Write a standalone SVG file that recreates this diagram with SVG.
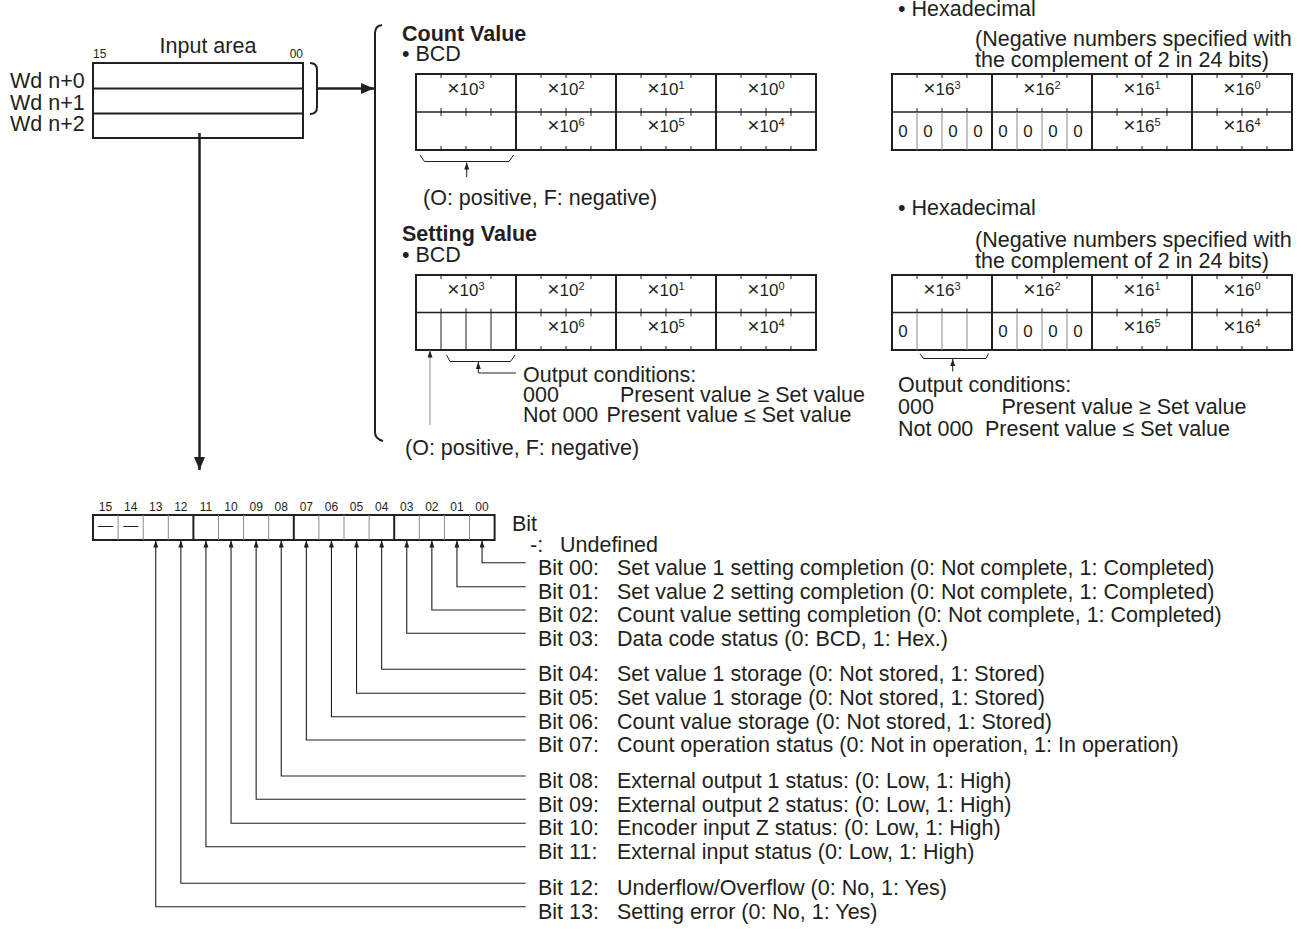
<svg xmlns="http://www.w3.org/2000/svg" width="1311" height="930" viewBox="0 0 1311 930">
<defs>
<style>
text{font-family:"Liberation Sans",Arial,Helvetica,sans-serif;fill:#231f20}
.t{font-size:21.5px}
.b{font-weight:bold}
.c{font-size:17px}
.x{font-size:21px;font-weight:300}
.sup{font-size:11px}
.n{font-size:12px}
.mid{text-anchor:middle}
.end{text-anchor:end}
.k{stroke:#231f20;stroke-width:2;fill:none}
.m{stroke:#231f20;stroke-width:1.5;fill:none}
.h{stroke:#231f20;stroke-width:1;fill:none}
.g{stroke:#8a8a8a;stroke-width:1;fill:none}
.w{stroke:#231f20;stroke-width:2.5;fill:none}
.bl{stroke:#231f20;stroke-width:1.1;fill:none}
</style>
<marker id="big" markerUnits="userSpaceOnUse" markerWidth="14" markerHeight="12" refX="13" refY="5.5" orient="auto"><path d="M0,0 L13,5.5 L0,11 Z" fill="#231f20"/></marker>
<marker id="sm" markerUnits="userSpaceOnUse" markerWidth="8" markerHeight="6" refX="7" refY="2.5" orient="auto"><path d="M0,0 L7,2.5 L0,5 Z" fill="#231f20"/></marker>
</defs>
<rect width="1311" height="930" fill="#fff"/>

<g id="input-area">
<text class="n" x="93" y="57.5">15</text>
<text class="n end" x="303" y="57.5">00</text>
<text class="t mid" x="208" y="53">Input area</text>
<text class="t" x="10" y="88">Wd n+0</text>
<text class="t" x="10" y="110">Wd n+1</text>
<text class="t" x="10" y="131">Wd n+2</text>
<rect class="k" x="93" y="63" width="210" height="75"/>
<path class="k" d="M93 88.5H303M93 113.5H303"/>
<path class="k" d="M310 63Q317 63 317 70V107Q317 114 310 114"/>
<path class="k" d="M382 25Q375 26 375 33V432Q375 439 383 441"/>
</g>

<g id="count-value-bcd">
<text class="t b" x="402" y="40.5">Count Value</text>
<text class="t" x="402" y="61">• BCD</text>
<rect class="k" x="416" y="74" width="400" height="76"/>
<path class="k" d="M516 74V150M616 74V150M716 74V150"/>
<path class="m" d="M416 112H816"/>
<path class="h" d="M441 74v4M466 74v4M491 74v4M541 74v4M566 74v4M591 74v4M641 74v4M666 74v4M691 74v4M741 74v4M766 74v4M791 74v4
M441 108v8M466 108v8M491 108v8M541 108v8M566 108v8M591 108v8M641 108v8M666 108v8M691 108v8M741 108v8M766 108v8M791 108v8
M441 146v4M466 146v4M491 146v4M541 146v4M566 146v4M591 146v4M641 146v4M666 146v4M691 146v4M741 146v4M766 146v4M791 146v4"/>
<text class="c mid" x="466" y="95"><tspan class="x">×</tspan>10<tspan class="sup" dy="-6">3</tspan></text>
<text class="c mid" x="566" y="95"><tspan class="x">×</tspan>10<tspan class="sup" dy="-6">2</tspan></text>
<text class="c mid" x="666" y="95"><tspan class="x">×</tspan>10<tspan class="sup" dy="-6">1</tspan></text>
<text class="c mid" x="766" y="95"><tspan class="x">×</tspan>10<tspan class="sup" dy="-6">0</tspan></text>
<text class="c mid" x="566" y="132"><tspan class="x">×</tspan>10<tspan class="sup" dy="-6">6</tspan></text>
<text class="c mid" x="666" y="132"><tspan class="x">×</tspan>10<tspan class="sup" dy="-6">5</tspan></text>
<text class="c mid" x="766" y="132"><tspan class="x">×</tspan>10<tspan class="sup" dy="-6">4</tspan></text>
<path class="h" d="M420 155L424.5 161.5H509L513.5 155"/>
<text class="t" x="423" y="205">(O: positive, F: negative)</text>
</g>

<g id="count-value-hex">
<text class="t" x="898" y="16">• Hexadecimal</text>
<text class="t" x="975" y="46">(Negative numbers specified with</text>
<text class="t" x="975" y="67">the complement of 2 in 24 bits)</text>
<rect class="k" x="892" y="74" width="400" height="76"/>
<path class="k" d="M992 74V150M1092 74V150M1192 74V150"/>
<path class="m" d="M892 112H1292"/>
<path class="g" d="M917 112V150M942 112V150M967 112V150M1017 112V150M1042 112V150M1067 112V150"/>
<path class="h" d="M917 74v4M942 74v4M967 74v4M1017 74v4M1042 74v4M1067 74v4M1117 74v4M1142 74v4M1167 74v4M1217 74v4M1242 74v4M1267 74v4
M917 108v4M942 108v4M967 108v4M1017 108v4M1042 108v4M1067 108v4M1117 108v8M1142 108v8M1167 108v8M1217 108v8M1242 108v8M1267 108v8
M1117 146v4M1142 146v4M1167 146v4M1217 146v4M1242 146v4M1267 146v4"/>
<text class="c mid" x="942" y="95"><tspan class="x">×</tspan>16<tspan class="sup" dy="-6">3</tspan></text>
<text class="c mid" x="1042" y="95"><tspan class="x">×</tspan>16<tspan class="sup" dy="-6">2</tspan></text>
<text class="c mid" x="1142" y="95"><tspan class="x">×</tspan>16<tspan class="sup" dy="-6">1</tspan></text>
<text class="c mid" x="1242" y="95"><tspan class="x">×</tspan>16<tspan class="sup" dy="-6">0</tspan></text>
<text class="c mid" x="1142" y="132"><tspan class="x">×</tspan>16<tspan class="sup" dy="-6">5</tspan></text>
<text class="c mid" x="1242" y="132"><tspan class="x">×</tspan>16<tspan class="sup" dy="-6">4</tspan></text>
<text class="c mid" x="903" y="137">0</text>
<text class="c mid" x="928" y="137">0</text>
<text class="c mid" x="953" y="137">0</text>
<text class="c mid" x="978" y="137">0</text>
<text class="c mid" x="1003" y="137">0</text>
<text class="c mid" x="1028" y="137">0</text>
<text class="c mid" x="1053" y="137">0</text>
<text class="c mid" x="1078" y="137">0</text>
</g>

<g id="setting-value-bcd">
<text class="t b" x="402" y="241">Setting Value</text>
<text class="t" x="402" y="262">• BCD</text>
<rect class="k" x="416" y="275" width="400" height="75"/>
<path class="k" d="M516 275V350M616 275V350M716 275V350"/>
<path class="m" d="M416 312.5H816"/>
<path class="h" d="M441 312.5V350M466 312.5V350M491 312.5V350"/>
<path class="h" d="M441 275v4M466 275v4M491 275v4M541 275v4M566 275v4M591 275v4M641 275v4M666 275v4M691 275v4M741 275v4M766 275v4M791 275v4
M441 308.5v4M466 308.5v4M491 308.5v4M541 308.5v8M566 308.5v8M591 308.5v8M641 308.5v8M666 308.5v8M691 308.5v8M741 308.5v8M766 308.5v8M791 308.5v8
M541 346v4M566 346v4M591 346v4M641 346v4M666 346v4M691 346v4M741 346v4M766 346v4M791 346v4"/>
<text class="c mid" x="466" y="296"><tspan class="x">×</tspan>10<tspan class="sup" dy="-6">3</tspan></text>
<text class="c mid" x="566" y="296"><tspan class="x">×</tspan>10<tspan class="sup" dy="-6">2</tspan></text>
<text class="c mid" x="666" y="296"><tspan class="x">×</tspan>10<tspan class="sup" dy="-6">1</tspan></text>
<text class="c mid" x="766" y="296"><tspan class="x">×</tspan>10<tspan class="sup" dy="-6">0</tspan></text>
<text class="c mid" x="566" y="333"><tspan class="x">×</tspan>10<tspan class="sup" dy="-6">6</tspan></text>
<text class="c mid" x="666" y="333"><tspan class="x">×</tspan>10<tspan class="sup" dy="-6">5</tspan></text>
<text class="c mid" x="766" y="333"><tspan class="x">×</tspan>10<tspan class="sup" dy="-6">4</tspan></text>
<path class="h" d="M446.5 355L450 361.5H510.5L515 355"/>
<text class="t" x="523" y="381.5">Output conditions:</text>
<text class="t" x="523" y="401.5">000</text>
<text class="t" x="620" y="401.5">Present value ≥ Set value</text>
<text class="t" x="523" y="422">Not 000</text>
<text class="t" x="606.5" y="422">Present value ≤ Set value</text>
<text class="t" x="405" y="455">(O: positive, F: negative)</text>
</g>

<g id="setting-value-hex">
<text class="t" x="898" y="215">• Hexadecimal</text>
<text class="t" x="975" y="247">(Negative numbers specified with</text>
<text class="t" x="975" y="267.5">the complement of 2 in 24 bits)</text>
<rect class="k" x="892" y="275" width="400" height="75"/>
<path class="k" d="M992 275V350M1092 275V350M1192 275V350"/>
<path class="m" d="M892 312.5H1292"/>
<path class="g" d="M917 312.5V350M942 312.5V350M967 312.5V350M1017 312.5V350M1042 312.5V350M1067 312.5V350"/>
<path class="h" d="M917 275v4M942 275v4M967 275v4M1017 275v4M1042 275v4M1067 275v4M1117 275v4M1142 275v4M1167 275v4M1217 275v4M1242 275v4M1267 275v4
M917 308.5v4M942 308.5v4M967 308.5v4M1017 308.5v4M1042 308.5v4M1067 308.5v4M1117 308.5v8M1142 308.5v8M1167 308.5v8M1217 308.5v8M1242 308.5v8M1267 308.5v8
M1117 346v4M1142 346v4M1167 346v4M1217 346v4M1242 346v4M1267 346v4"/>
<text class="c mid" x="942" y="296"><tspan class="x">×</tspan>16<tspan class="sup" dy="-6">3</tspan></text>
<text class="c mid" x="1042" y="296"><tspan class="x">×</tspan>16<tspan class="sup" dy="-6">2</tspan></text>
<text class="c mid" x="1142" y="296"><tspan class="x">×</tspan>16<tspan class="sup" dy="-6">1</tspan></text>
<text class="c mid" x="1242" y="296"><tspan class="x">×</tspan>16<tspan class="sup" dy="-6">0</tspan></text>
<text class="c mid" x="1142" y="333"><tspan class="x">×</tspan>16<tspan class="sup" dy="-6">5</tspan></text>
<text class="c mid" x="1242" y="333"><tspan class="x">×</tspan>16<tspan class="sup" dy="-6">4</tspan></text>
<text class="c mid" x="903" y="337">0</text>
<text class="c mid" x="1003" y="337">0</text>
<text class="c mid" x="1028" y="337">0</text>
<text class="c mid" x="1053" y="337">0</text>
<text class="c mid" x="1078" y="337">0</text>
<path class="h" d="M920 353.5L923.5 358.5H986L988.5 353.5"/>
<text class="t" x="898" y="392">Output conditions:</text>
<text class="t" x="898" y="414">000</text>
<text class="t" x="1001.5" y="414">Present value ≥ Set value</text>
<text class="t" x="898" y="436">Not 000</text>
<text class="t" x="985" y="436">Present value ≤ Set value</text>
</g>

<g id="status-register">
<text class="n mid" x="105.55" y="511">15</text>
<text class="n mid" x="130.65" y="511">14</text>
<text class="n mid" x="155.75" y="511">13</text>
<text class="n mid" x="180.85" y="511">12</text>
<text class="n mid" x="205.95" y="511">11</text>
<text class="n mid" x="231.05" y="511">10</text>
<text class="n mid" x="256.15" y="511">09</text>
<text class="n mid" x="281.25" y="511">08</text>
<text class="n mid" x="306.35" y="511">07</text>
<text class="n mid" x="331.45" y="511">06</text>
<text class="n mid" x="356.55" y="511">05</text>
<text class="n mid" x="381.65" y="511">04</text>
<text class="n mid" x="406.75" y="511">03</text>
<text class="n mid" x="431.85" y="511">02</text>
<text class="n mid" x="456.95" y="511">01</text>
<text class="n mid" x="482.05" y="511">00</text>
<rect class="k" x="93" y="515" width="401.6" height="25"/>
<path class="k" d="M193.4 515V540M293.8 515V540M394.2 515V540"/>
<path class="g" d="M118.1 515V540M143.2 515V540M168.3 515V540M218.5 515V540M243.6 515V540M268.7 515V540M318.9 515V540M344 515V540M369.1 515V540M419.3 515V540M444.4 515V540M469.5 515V540"/>
<text class="mid" style="font-size:15px" x="105.55" y="529.5">—</text>
<text class="mid" style="font-size:15px" x="130.65" y="529.5">—</text>
<text class="t" x="512" y="531">Bit</text>
<text class="t" x="530" y="552">-:</text>
<text class="t" x="560" y="552">Undefined</text>
</g>

<g id="bit-descriptions">
<text class="t" x="538" y="575">Bit 00:</text><text class="t" x="617" y="575">Set value 1 setting completion (0: Not complete, 1: Completed)</text>
<text class="t" x="538" y="598.5">Bit 01:</text><text class="t" x="617" y="598.5">Set value 2 setting completion (0: Not complete, 1: Completed)</text>
<text class="t" x="538" y="622">Bit 02:</text><text class="t" x="617" y="622">Count value setting completion (0: Not complete, 1: Completed)</text>
<text class="t" x="538" y="645.5">Bit 03:</text><text class="t" x="617" y="645.5">Data code status (0: BCD, 1: Hex.)</text>
<text class="t" x="538" y="681">Bit 04:</text><text class="t" x="617" y="681">Set value 1 storage (0: Not stored, 1: Stored)</text>
<text class="t" x="538" y="705">Bit 05:</text><text class="t" x="617" y="705">Set value 1 storage (0: Not stored, 1: Stored)</text>
<text class="t" x="538" y="728.5">Bit 06:</text><text class="t" x="617" y="728.5">Count value storage (0: Not stored, 1: Stored)</text>
<text class="t" x="538" y="752">Bit 07:</text><text class="t" x="617" y="752">Count operation status (0: Not in operation, 1: In operation)</text>
<text class="t" x="538" y="788">Bit 08:</text><text class="t" x="617" y="788">External output 1 status: (0: Low, 1: High)</text>
<text class="t" x="538" y="811.5">Bit 09:</text><text class="t" x="617" y="811.5">External output 2 status: (0: Low, 1: High)</text>
<text class="t" x="538" y="835">Bit 10:</text><text class="t" x="617" y="835">Encoder input Z status: (0: Low, 1: High)</text>
<text class="t" x="538" y="858.5">Bit 11:</text><text class="t" x="617" y="858.5">External input status (0: Low, 1: High)</text>
<text class="t" x="538" y="895">Bit 12:</text><text class="t" x="617" y="895">Underflow/Overflow (0: No, 1: Yes)</text>
<text class="t" x="538" y="918.5">Bit 13:</text><text class="t" x="617" y="918.5">Setting error (0: No, 1: Yes)</text>
</g>

<g id="connectors">
<path class="w" d="M317 88.5H374" marker-end="url(#big)"/>
<path class="w" d="M199.5 133V470" marker-end="url(#big)"/>
<path class="h" d="M466.7 177V162.5" marker-end="url(#sm)"/>
<path class="g" d="M430 425V350.5" marker-end="url(#sm)"/>
<path class="h" d="M516 373H478.3V362" marker-end="url(#sm)"/>
<path class="h" d="M952.7 371.5V359" marker-end="url(#sm)"/>
<path class="bl" d="M525.7 562.7H482.05V540.5" marker-end="url(#sm)"/>
<path class="bl" d="M525.7 586.7H456.95V540.5" marker-end="url(#sm)"/>
<path class="bl" d="M525.7 610H431.85V540.5" marker-end="url(#sm)"/>
<path class="bl" d="M525.7 633.3H406.75V540.5" marker-end="url(#sm)"/>
<path class="bl" d="M525.7 669.3H381.65V540.5" marker-end="url(#sm)"/>
<path class="bl" d="M525.7 693.3H356.55V540.5" marker-end="url(#sm)"/>
<path class="bl" d="M525.7 716.7H331.45V540.5" marker-end="url(#sm)"/>
<path class="bl" d="M525.7 740H306.35V540.5" marker-end="url(#sm)"/>
<path class="bl" d="M525.7 776H281.25V540.5" marker-end="url(#sm)"/>
<path class="bl" d="M525.7 799.3H256.15V540.5" marker-end="url(#sm)"/>
<path class="bl" d="M525.7 823.3H231.05V540.5" marker-end="url(#sm)"/>
<path class="bl" d="M525.7 846.7H205.95V540.5" marker-end="url(#sm)"/>
<path class="bl" d="M525.7 883.3H180.85V540.5" marker-end="url(#sm)"/>
<path class="bl" d="M525.7 906.7H155.75V540.5" marker-end="url(#sm)"/>
</g>
</svg>
